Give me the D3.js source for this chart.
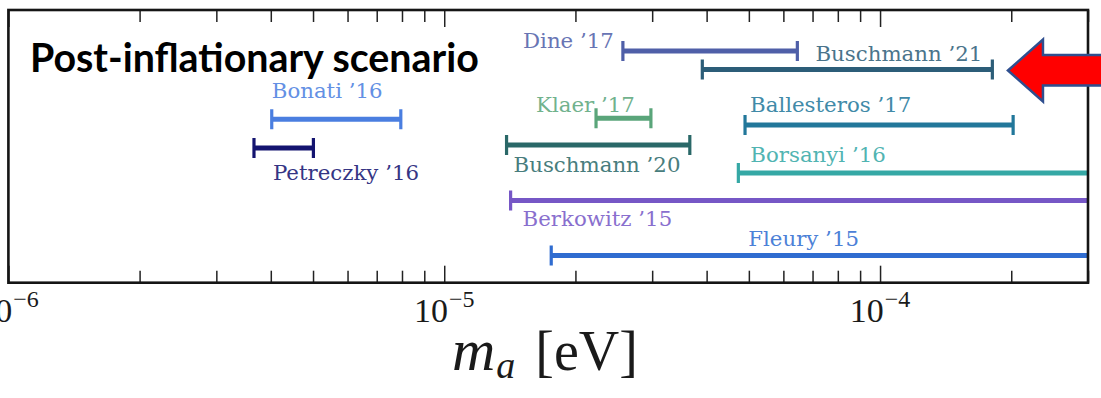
<!DOCTYPE html>
<html>
<head>
<meta charset="utf-8">
<script src="https://cdn.jsdelivr.net/npm/d3@7"></script>
<style>
  html, body { margin: 0; padding: 0; background: #ffffff; }
  svg { display: block; }
</style>
</head>
<body>
<svg id="chart" width="1101" height="398"></svg>
<script>
// ---------------- data ----------------
const studies   = ["Dine ’17", "Buschmann ’21", "Bonati ’16", "Petreczky ’16", "Klaer ’17",
                   "Buschmann ’20", "Ballesteros ’17", "Borsanyi ’16", "Berkowitz ’15", "Fleury ’15"];
// axion mass ranges in eV (null = range continues beyond the plotted window)
const massLow   = [2.57e-5, 3.91e-5, 4.02e-6, 3.66e-6, 2.23e-5, 1.39e-5, 4.90e-5, 4.73e-5, 1.42e-5, 1.76e-5];
const massHigh  = [6.46e-5, 1.81e-4, 7.95e-6, 5.01e-6, 2.98e-5, 3.66e-5, 2.02e-4, null, null, null];
// vertical level of each study (0 = bottom of frame, 100 = top of frame)
const rowLevel  = [85.0, 78.2, 59.9, 49.4, 60.3, 50.5, 57.8, 40.2, 30.1, 10.0];
const xDomain   = [1e-6, 3e-4];
const majorTicks = [1e-6, 1e-5, 1e-4];
const tickExponents = ["−6", "−5", "−4"];
const titleText = "Post-inflationary scenario";
const highlighted = "Buschmann ’21";

// ---------------- styles / layout ----------------
const colors = ["#4f5fa8", "#2c5d78", "#4a7ee0", "#141470", "#5aa57a",
                "#2a6868", "#22779a", "#35a8a5", "#7657c6", "#2f6cd0"];
// label placement relative to the bar
const labelLayout = [
  {anchor: "end",   ref: "low",  dx: -9,  dy: -3},
  {anchor: "end",   ref: "high", dx: -10, dy: -8},
  {anchor: "start", ref: "low",  dx: 0,   dy: -21},
  {anchor: "start", ref: "low",  dx: 19,  dy: 32},
  {anchor: "end",   ref: "high", dx: -16, dy: -6.6},
  {anchor: "start", ref: "low",  dx: 7,   dy: 26.7},
  {anchor: "start", ref: "low",  dx: 5,   dy: -13.3},
  {anchor: "start", ref: "low",  dx: 12,  dy: -11.3},
  {anchor: "start", ref: "low",  dx: 12,  dy: 25.3},
  {anchor: "start", ref: "low",  dx: 197, dy: -9}
];

const frame = {left: 8.4, right: 1088, top: 10, bottom: 282.7};

const svg = d3.select("#chart");

const x = d3.scaleLog().domain(xDomain).range([frame.left, frame.right]);
const y = d3.scaleLinear().domain([0, 100]).range([frame.bottom, frame.top]);

// clip for bars
svg.append("defs").append("clipPath").attr("id", "plotClip")
  .append("rect")
  .attr("x", frame.left).attr("y", frame.top)
  .attr("width", frame.right - frame.left).attr("height", frame.bottom - frame.top);

// ---------------- axes (ticks inward, top and bottom) ----------------
const allTicks = x.ticks();  // includes minor 2..9 multiples
const isMajor = v => Math.abs(Math.log10(v) - Math.round(Math.log10(v))) < 1e-9;

const bottomAxis = d3.axisTop(x).tickValues(allTicks)
  .tickSize(0).tickFormat("");
const gBottom = svg.append("g").attr("transform", `translate(0,${frame.bottom})`).call(bottomAxis);
gBottom.select(".domain").remove();
gBottom.selectAll(".tick line")
  .attr("y2", d => isMajor(d) ? -17 : -12)
  .attr("stroke", "#222").attr("stroke-width", 1.5);

const topAxis = d3.axisBottom(x).tickValues(allTicks)
  .tickSize(0).tickFormat("");
const gTop = svg.append("g").attr("transform", `translate(0,${frame.top})`).call(topAxis);
gTop.select(".domain").remove();
gTop.selectAll(".tick line")
  .attr("y2", d => isMajor(d) ? 17 : 12)
  .attr("stroke", "#222").attr("stroke-width", 1.5);

// tick labels 10^n
const tickLab = svg.append("g").selectAll("text").data(majorTicks).join("text")
  .attr("x", d => x(d))
  .attr("y", 321.7)
  .attr("text-anchor", "middle")
  .attr("font-family", "'Liberation Serif', serif")
  .attr("font-size", 34)
  .attr("fill", "#1a1a1a");
tickLab.append("tspan").text("10");
tickLab.append("tspan").text((d, i) => tickExponents[i])
  .attr("font-size", 24).attr("dy", -15).attr("dx", 1);

// axis title
const axTitle = svg.append("text")
  .attr("x", 452).attr("y", 370)
  .attr("font-family", "'Liberation Serif', serif")
  .attr("font-size", 56)
  .attr("fill", "#1a1a1a");
axTitle.append("tspan").text("m").attr("font-style", "italic").attr("font-size", 60);
axTitle.append("tspan").text("a").attr("font-style", "italic").attr("font-size", 38).attr("dy", 8).attr("dx", 1);
axTitle.append("tspan").text("[eV]").attr("dy", -8).attr("dx", 20);

// ---------------- bars ----------------
const rows = studies.map((s, i) => ({
  name: s, lo: massLow[i], hi: massHigh[i], level: rowLevel[i], color: colors[i], lay: labelLayout[i]
}));

const gBars = svg.append("g").attr("clip-path", "url(#plotClip)");
rows.forEach(r => {
  const x1 = x(r.lo);
  const x2 = r.hi === null ? frame.right + 5 : x(r.hi);
  const yy = y(r.level);
  const g = gBars.append("g");
  g.append("line")
    .attr("x1", x1).attr("x2", x2).attr("y1", yy).attr("y2", yy)
    .attr("stroke", r.color).attr("stroke-width", 5);
  g.append("line")
    .attr("x1", x1).attr("x2", x1).attr("y1", yy - 10).attr("y2", yy + 10)
    .attr("stroke", r.color).attr("stroke-width", 3.2);
  if (r.hi !== null) {
    g.append("line")
      .attr("x1", x2).attr("x2", x2).attr("y1", yy - 10).attr("y2", yy + 10)
      .attr("stroke", r.color).attr("stroke-width", 3.2);
  }
});

// labels
svg.append("g").selectAll("text").data(rows).join("text")
  .attr("x", d => (d.lay.ref === "low" ? x(d.lo) : x(d.hi)) + d.lay.dx)
  .attr("y", d => y(d.level) + d.lay.dy)
  .attr("text-anchor", d => d.lay.anchor)
  .attr("font-family", "'DejaVu Serif', serif")
  .attr("font-size", 21.3)
  .attr("fill", d => d3.interpolateRgb(d.color, "#ffffff")(0.14))
  .text(d => d.name);

// ---------------- frame ----------------
svg.append("rect")
  .attr("x", frame.left).attr("y", frame.top)
  .attr("width", frame.right - frame.left).attr("height", frame.bottom - frame.top)
  .attr("fill", "none").attr("stroke", "#151515").attr("stroke-width", 2.6);

// ---------------- title ----------------
const title = svg.append("text")
  .attr("x", 30).attr("y", 72)
  .attr("font-family", "Lato, 'Open Sans', sans-serif")
  .attr("font-weight", "bold")
  .attr("font-size", 30)
  .attr("fill", "#000")
  .text(titleText);
const w = title.node().getComputedTextLength();
title.attr("font-size", 30 * 449 / w);

// ---------------- red arrow pointing at highlighted study ----------------
const hi = rows.find(r => r.name === highlighted);
const tipX = x(hi.hi) + 15.6, tipY = y(hi.level) + 1;
const headX = tipX + 35;
const arrowPts = [
  [tipX, tipY], [headX, tipY - 31], [headX, tipY - 15.5], [1110, tipY - 15.5],
  [1110, tipY + 15], [headX, tipY + 15], [headX, tipY + 31]
];
svg.append("path")
  .attr("d", d3.line()(arrowPts) + "Z")
  .attr("fill", "#ff0000")
  .attr("stroke", "#2f4f8f")
  .attr("stroke-width", 2.5)
  .attr("stroke-linejoin", "miter");
</script>
</body>
</html>
